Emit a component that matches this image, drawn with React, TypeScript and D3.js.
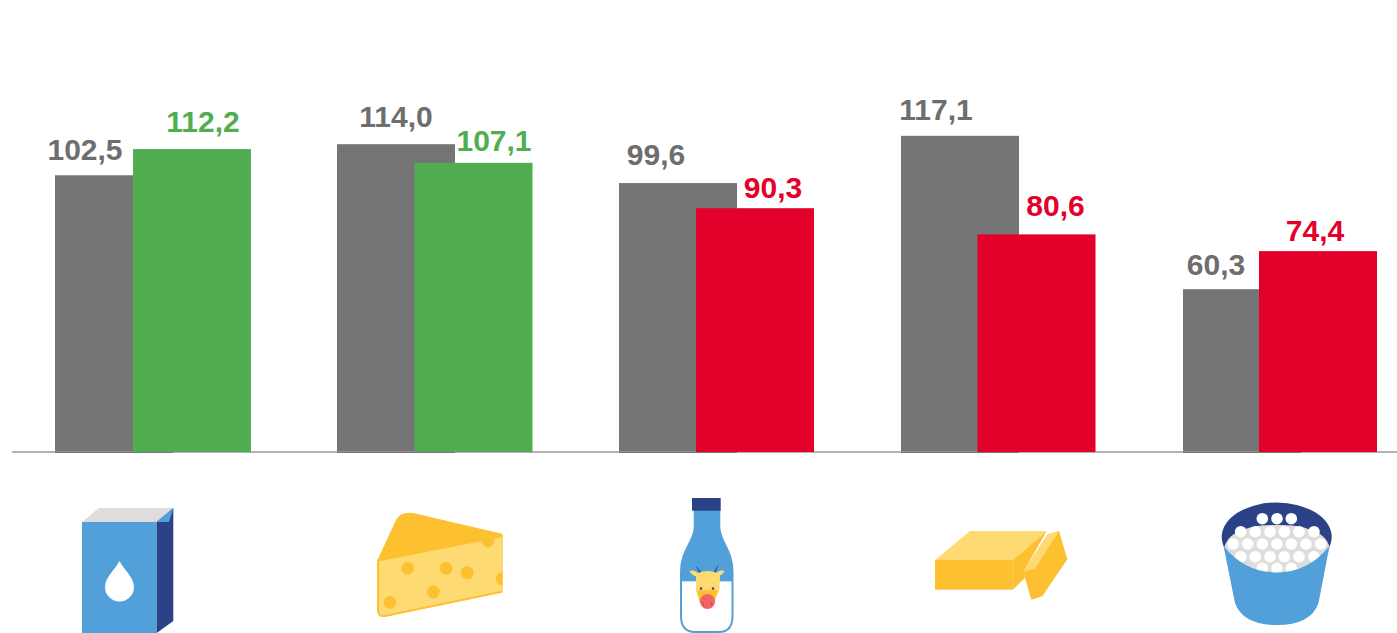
import React from "react";
import * as d3 from "d3";

const categories = ["milkCarton", "cheese", "bottledMilk", "butter", "curd"];
const previousValues = [102.5, 114.0, 99.6, 117.1, 60.3];
const currentValues = [112.2, 107.1, 90.3, 80.6, 74.4];
const currentIsPositive = [true, true, false, false, false];

const W = 1397, H = 633;
const GREY = "#757575", GREY_TXT = "#6e6e6e", GREEN = "#50ae50", RED = "#e3002b";
const BLUE = "#52a0d9", NAVY = "#2b4289", YEL = "#fcc030", LYEL = "#fddb72", PALE = "#dedddb";

// manual label nudges from the bar's centre (dx) and gap above the bar
const prevLabelDx = [-29, 0, -22, -24, -26];
const prevLabelGap = [15, 17, 18, 16, 14];
const currLabelDx = [11, 20.5, 18, 19, -3];
const currLabelGap = [17, 12, 10, 18, 10];

const y = d3.scaleLinear().domain([0, 100]).range([452, 182]);
const xPrev = d3.scaleBand<string>().domain(categories).range([55, 1301]).paddingInner(1 - 118 / 282);
const xCurr = d3.scaleBand<string>().domain(categories).range([133, 1377]).paddingInner(1 - 118 / 281.5);
const fmt = (v: number) => v.toFixed(1).replace(".", ",");
const labelStyle = { fontFamily: "'Liberation Sans', Arial, sans-serif", fontWeight: 700, fontSize: 30, textAnchor: "middle" as const };

function Carton() {
  return (
    <g>
      <path d="M82 522L99 508H173.3L156.7 522Z" fill={PALE} />
      <rect x={82} y={522} width={74.7} height={111} fill={BLUE} />
      <path d="M156.7 522L173.3 508V621L156.7 633Z" fill={NAVY} />
      <path d="M156.7 522L173.3 508L169 522Z" fill={BLUE} />
      <path d="M119.5 561C124 570 134 577 134 587A14.5 14.5 0 0 1 105 587C105 577 115 570 119.5 561Z" fill="#fff" />
    </g>
  );
}

const cheeseHoles = [[407.7, 568.3], [446, 568.3], [467.3, 572.7], [488, 541], [502, 579], [433.3, 592], [390, 602.3]];
function Cheese() {
  return (
    <g>
      <defs>
        <clipPath id="cheeseClip"><rect x={370} y={505} width={132.5} height={120} /></clipPath>
      </defs>
      <g clipPath="url(#cheeseClip)">
        <path d="M377 561L396 520Q401 511 413 513L503 534L503 537Z" fill={YEL} />
        <path d="M378 560.5L503 536V591.5L385 616Q378 617 378 610Z" fill={LYEL} stroke={YEL} strokeWidth={2} />
        {cheeseHoles.map(([cx, cy], i) => <circle key={i} cx={cx} cy={cy} r={6.4} fill={YEL} />)}
      </g>
    </g>
  );
}

const bottlePath = "M694.7 510V527C694.7 542 681 549 681 572V616Q681 632 695 632H719Q732.5 632 732.5 616V572C732.5 549 719.3 542 719.3 527V510Z";
function Bottle() {
  return (
    <g>
      <defs>
        <clipPath id="bottleClip"><path d={bottlePath} /></clipPath>
      </defs>
      <path d={bottlePath} fill="#fff" stroke={BLUE} strokeWidth={2} />
      <rect x={678} y={505} width={58} height={76.3} fill={BLUE} clipPath="url(#bottleClip)" />
      <rect x={692} y={498} width={28.7} height={12.7} fill={NAVY} />
      <path d="M695 565L703 574L701 575Z" fill={NAVY} />
      <path d="M719 564L712 575L714.5 575Z" fill={NAVY} />
      <path d="M689.5 571Q695 569 699 574.5L698 577Q692 576 689.5 571Z" fill={LYEL} />
      <path d="M724.5 571Q719 569 715 574.5L716 577Q722 576 724.5 571Z" fill={LYEL} />
      <path d="M696 574Q707 568 720 574L719.5 590L713 603H700L696 590Z" fill={LYEL} />
      <path d="M697 590L718 590L714 603H700Z" fill={YEL} />
      <circle cx={701} cy={588.5} r={1.2} fill={NAVY} />
      <circle cx={713} cy={588.5} r={1.2} fill={NAVY} />
      <circle cx={707.5} cy={601.5} r={7.6} fill="#f26464" />
      <path d="M703.5 602V606M711.5 602V606" stroke="#a34a55" strokeWidth={0.7} />
    </g>
  );
}

function Butter() {
  return (
    <g>
      <path d="M935 560L970 531H1046.7L1012.7 560Z" fill={LYEL} />
      <rect x={935} y={560} width={77.7} height={29.7} fill={YEL} />
      <path d="M1012.7 560L1046.7 531L1023.5 571.7L1025 578L1012.7 589.7Z" fill={YEL} />
      <path d="M1023.5 571.7L1047.7 534.3L1059 531L1067.3 559.3L1042.3 596.3L1031.3 599.7L1025 578Z" fill={YEL} />
      <path d="M1023.5 571.7L1047.7 534.3L1059 531L1035 568.7Z" fill={LYEL} />
    </g>
  );
}

const tubCircleRows: [number, number[]][] = [
  [518.7, [1262.3, 1277, 1291.3]],
  [531.7, [1240.7, 1255.3, 1270, 1284.3, 1299, 1314]],
  [544, [1233.3, 1247.7, 1262.3, 1277, 1291.3, 1306, 1320.7]],
  [556.7, [1240.7, 1255.3, 1270, 1284.3, 1299, 1314]],
  [568.3, [1262.3, 1277, 1291.3]],
];
function Tub() {
  return (
    <g>
      <ellipse cx={1276.7} cy={537} rx={55} ry={34.5} fill={NAVY} />
      <path d="M1224 548C1227 538 1233 533 1243 530C1252 526 1262 525 1277 525C1292 525 1302 526 1311 530C1321 533 1327 538 1330 548L1320 575H1234Z" fill={PALE} />
      {tubCircleRows.map(([cy, xs]) => xs.map(cx => <circle key={`${cy}-${cx}`} cx={cx} cy={cy} r={5.8} fill="#fff" />))}
      <path d="M1223.5 546Q1245 572.5 1276.7 572.5Q1308 572.5 1329.5 546L1318.5 603Q1311 625 1276.7 625Q1243 625 1235 603Z" fill={BLUE} />
    </g>
  );
}

export default function App() {
  return (
    <svg width={W} height={H} viewBox={`0 0 ${W} ${H}`} style={{ position: "absolute", left: 0, top: 0, display: "block", background: "#fff" }}>
      {categories.map((c, i) => (
        <rect key={c} x={xPrev(c)} y={y(previousValues[i])} width={xPrev.bandwidth()} height={453 - y(previousValues[i])} fill={GREY} />
      ))}
      <line x1={12} x2={W} y1={452} y2={452} stroke="#9a9a9a" strokeWidth={1.3} />
      {categories.map((c) => (
        <rect key={c} x={xPrev(c)} y={452} width={xPrev.bandwidth()} height={1} fill={GREY} />
      ))}
      {categories.map((c, i) => {
        const v = currentValues[i];
        return <rect key={c} x={xCurr(c)} y={y(v)} width={xCurr.bandwidth()} height={y(0) - y(v)} fill={currentIsPositive[i] ? GREEN : RED} />;
      })}
      {categories.map((c, i) => (
        <text key={c} x={xPrev(c)! + xPrev.bandwidth() / 2 + prevLabelDx[i]} y={y(previousValues[i]) - prevLabelGap[i]} fill={GREY_TXT} {...labelStyle}>
          {fmt(previousValues[i])}
        </text>
      ))}
      {categories.map((c, i) => (
        <text key={c} x={xCurr(c)! + xCurr.bandwidth() / 2 + currLabelDx[i]} y={y(currentValues[i]) - currLabelGap[i]} fill={currentIsPositive[i] ? GREEN : RED} {...labelStyle}>
          {fmt(currentValues[i])}
        </text>
      ))}
      <Carton />
      <Cheese />
      <Bottle />
      <Butter />
      <Tub />
    </svg>
  );
}
